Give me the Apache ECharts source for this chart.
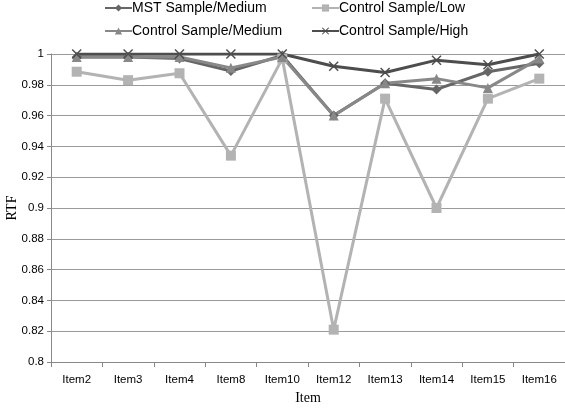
<!DOCTYPE html>
<html>
<head>
<meta charset="utf-8">
<script src="https://cdn.jsdelivr.net/npm/echarts@6/dist/echarts.min.js"></script>
<style>
  html, body { margin: 0; padding: 0; background: #fff; }
  #chart { width: 565px; height: 408px; }
</style>
</head>
<body>
<div id="chart"></div>
<script>
// 数据
var items = ['Item2', 'Item3', 'Item4', 'Item8', 'Item10', 'Item12', 'Item13', 'Item14', 'Item15', 'Item16'];
var mstMedium = [0.998, 0.998, 0.997, 0.989, 0.999, 0.960, 0.981, 0.977, 0.9885, 0.994];
var controlLow = [0.9885, 0.983, 0.9875, 0.934, 0.997, 0.821, 0.971, 0.900, 0.971, 0.984];
var controlMedium = [0.998, 0.998, 0.998, 0.991, 0.998, 0.960, 0.981, 0.984, 0.978, 0.997];
var controlHigh = [1, 1, 1, 1, 1, 0.992, 0.988, 0.996, 0.993, 1];

var xMark = 'path://M0,1 L1,0 L5,4 L9,0 L10,1 L6,5 L10,9 L9,10 L5,6 L1,10 L0,9 L4,5 Z';
var sans = 'Liberation Sans';
var serif = 'Liberation Serif';

function legendAt(name, left, top) {
    return {
        data: [name],
        left: left,
        top: top,
        itemWidth: 27,
        itemHeight: 9,
        itemGap: 0,
        padding: 0,
        selectedMode: false,
        textStyle: { fontFamily: sans, fontSize: 14, color: '#000', padding: [0, 0, 0, -5] }
    };
}

function line(name, data, color, symbol, size) {
    return {
        name: name,
        type: 'line',
        data: data,
        symbol: symbol,
        symbolSize: size,
        lineStyle: { color: color, width: 3 },
        itemStyle: { color: color },
        emphasis: { disabled: true },
        animation: false
    };
}

var option = {
    legend: [
        legendAt('MST Sample/Medium', 104, 1),
        legendAt('Control Sample/Low', 311, 1),
        legendAt('Control Sample/Medium', 104, 24),
        legendAt('Control Sample/High', 311, 24)
    ],
    grid: { left: 51, right: 0, top: 54, bottom: 46, outerBoundsMode: 'none', containLabel: false },
    xAxis: {
        type: 'category',
        data: items,
        boundaryGap: true,
        name: 'Item',
        nameLocation: 'middle',
        nameGap: 29,
        nameMoveOverlap: false,
        nameTextStyle: { fontFamily: serif, fontSize: 14, color: '#000' },
        axisLine: { lineStyle: { color: '#888', width: 1 } },
        axisTick: { show: true, length: 5, lineStyle: { color: '#888' } },
        axisLabel: { fontFamily: sans, fontSize: 11.5, color: '#000', margin: 12 }
    },
    yAxis: {
        type: 'value',
        min: 0.8,
        max: 1,
        interval: 0.02,
        name: 'RTF',
        nameLocation: 'middle',
        nameRotate: 90,
        nameGap: 32,
        nameMoveOverlap: false,
        nameTextStyle: { fontFamily: serif, fontSize: 14, color: '#000' },
        axisLine: { show: true, lineStyle: { color: '#888', width: 1 } },
        axisTick: { show: true, length: 4, lineStyle: { color: '#888' } },
        axisLabel: { fontFamily: sans, fontSize: 11.5, color: '#000', margin: 7 },
        splitLine: { lineStyle: { color: '#9a9a9a', width: 1 } }
    },
    series: [
        line('MST Sample/Medium', mstMedium, '#666666', 'diamond', 10),
        line('Control Sample/Low', controlLow, '#b3b3b3', 'rect', 10),
        line('Control Sample/Medium', controlMedium, '#888888', 'triangle', 10),
        line('Control Sample/High', controlHigh, '#4d4d4d', xMark, 10)
    ]
};

var myChart = echarts.init(document.getElementById('chart'), null, { renderer: 'canvas' });
// 绘制图表
myChart.setOption(option);
</script>
</body>
</html>
